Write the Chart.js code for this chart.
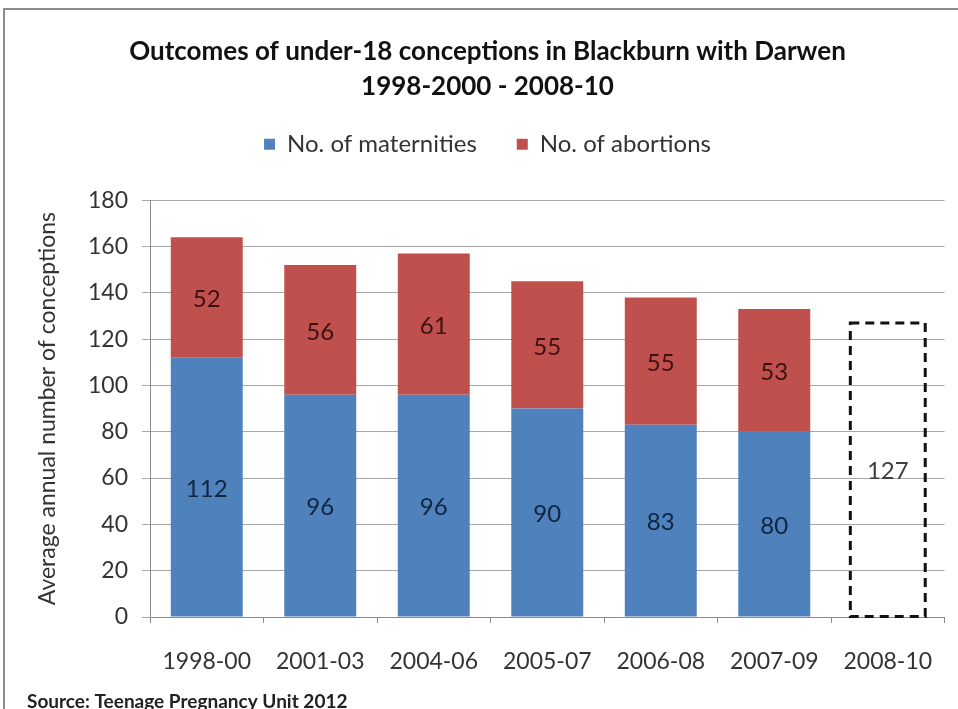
<!DOCTYPE html>
<html>
<head>
<meta charset="utf-8">
<script src="https://cdn.jsdelivr.net/npm/chart.js@4.4.1/dist/chart.umd.min.js"></script>
<style>
    html, body { margin: 0; padding: 0; background: #fff; overflow: hidden; }
    #frame {
        position: absolute; left: 3px; top: 8px;
        width: 1000px; height: 760px;
        border-left: 2px solid #8c8c8c; border-top: 2px solid #8c8c8c;
    }
    #wrap { position: absolute; left: 0; top: 0; width: 958px; height: 709px; }
</style>
</head>
<body>
<div id="frame"></div>
<div id="wrap"><canvas id="outcomesChart" width="958" height="709"></canvas></div>
<script>
/* Outcomes of under-18 conceptions, stacked bars */

const periods = ["1998-00", "2001-03", "2004-06", "2005-07", "2006-08", "2007-09", "2008-10"];
const maternities = [112, 96, 96, 90, 83, 80, null];
const abortions = [52, 56, 61, 55, 55, 53, null];
// only the total is published for the latest period
const totalOnly = [null, null, null, null, null, null, 127];
const yTicks = [0, 20, 40, 60, 80, 100, 120, 140, 160, 180];

const FONT = "Lato, 'Open Sans', sans-serif";

// values written in the middle of each segment, and the dashed outline for totals
const segmentLabels = {
    id: "segmentLabels",
    afterDatasetsDraw(chart) {
        const ctx = chart.ctx;
        ctx.save();
        chart.data.datasets.forEach((ds, i) => {
            const meta = chart.getDatasetMeta(i);
            meta.data.forEach((bar, j) => {
                const v = ds.data[j];
                if (v == null) return;
                const top = bar.y, base = bar.base;
                const left = bar.x - bar.width / 2, right = bar.x + bar.width / 2;
                if (ds.dashed) {
                    ctx.strokeStyle = "#111";
                    ctx.lineWidth = 3;
                    ctx.setLineDash([9, 6]);
                    ctx.strokeRect(left, top, right - left, base - top);
                    ctx.setLineDash([]);
                }
                ctx.fillStyle = ds.labelColor;
                ctx.font = "24px " + FONT;
                ctx.textAlign = "center";
                ctx.textBaseline = "middle";
                ctx.fillText(String(v), bar.x, (top + base) / 2 + 2);
            });
        });
        ctx.restore();
    }
};

// extra space under the legend before the plot starts
const legendGap = {
    id: "legendGap",
    beforeLayout(chart) {
        const lg = chart.legend;
        if (!lg || lg._gapAdded) return;
        const fit = lg.fit.bind(lg);
        lg.fit = () => {
            fit();
            lg.height += 34;
        };
        lg._gapAdded = true;
    }
};

const sourceNote = {
    id: "sourceNote",
    afterDraw(chart) {
        const ctx = chart.ctx;
        ctx.save();
        ctx.fillStyle = "#222";
        ctx.font = "bold 19px " + FONT;
        ctx.textAlign = "left";
        ctx.textBaseline = "middle";
        ctx.fillText("Source: Teenage Pregnancy Unit 2012", 27, 702);
        ctx.restore();
    }
};

new Chart(document.getElementById("outcomesChart").getContext("2d"), {
    type: "bar",
    data: {
        labels: periods,
        datasets: [
            {
                label: "No. of maternities",
                data: maternities,
                backgroundColor: "#4F81BD",
                labelColor: "#10253f",
                barPercentage: 0.634,
                categoryPercentage: 1
            },
            {
                label: "No. of abortions",
                data: abortions,
                backgroundColor: "#C0504D",
                labelColor: "#3b1110",
                barPercentage: 0.634,
                categoryPercentage: 1
            },
            {
                label: "Total",
                data: totalOnly,
                backgroundColor: "rgba(0,0,0,0)",
                labelColor: "#404040",
                dashed: true,
                barPercentage: 0.66,
                categoryPercentage: 1
            }
        ]
    },
    options: {
        responsive: false,
        animation: false,
        layout: { padding: { left: 30, right: 13, top: 34, bottom: 33 } },
        plugins: {
            title: {
                display: true,
                text: ["Outcomes of under-18 conceptions in Blackburn with Darwen", "1998-2000 - 2008-10"],
                color: "#111",
                font: { family: FONT, size: 26, weight: "bold", lineHeight: 1.35 },
                padding: { top: 0, bottom: -12 }
            },
            legend: {
                position: "top",
                labels: {
                    color: "#333",
                    font: { family: FONT, size: 24 },
                    boxWidth: 11,
                    boxHeight: 11,
                    padding: 40,
                    filter: item => item.datasetIndex < 2
                }
            },
            tooltip: { enabled: false }
        },
        scales: {
            x: {
                stacked: true,
                afterFit(axis) {
                    axis.height = 59;
                },
                grid: {
                    drawOnChartArea: false,
                    color: "#8a8a8a",
                    tickLength: 6
                },
                border: { color: "#8a8a8a" },
                ticks: {
                    color: "#333",
                    font: { family: FONT, size: 23 },
                    padding: 25
                }
            },
            y: {
                stacked: true,
                min: 0,
                max: 180,
                afterBuildTicks(axis) {
                    axis.ticks = yTicks.map(v => ({ value: v }));
                },
                afterFit(axis) {
                    axis.width = 120;
                },
                grid: { color: "#a6a6a6", tickLength: 8 },
                border: { color: "#8a8a8a" },
                ticks: {
                    color: "#333",
                    font: { family: FONT, size: 23 },
                    padding: 14
                },
                title: {
                    display: true,
                    text: "Average annual number of conceptions",
                    color: "#333",
                    font: { family: FONT, size: 23 },
                    padding: { top: 4, bottom: 0 }
                }
            }
        }
    },
    plugins: [segmentLabels, legendGap, sourceNote]
});
</script>
</body>
</html>
